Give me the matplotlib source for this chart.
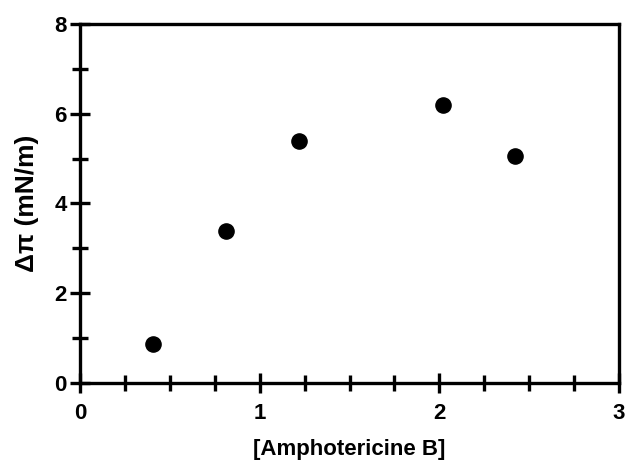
import matplotlib
matplotlib.use("Agg")
import matplotlib.pyplot as plt
from matplotlib.ticker import MultipleLocator

conc = [0.405, 0.81, 1.22, 2.02, 2.42]
dpi_vals = [0.87, 3.39, 5.39, 6.19, 5.06]

plt.rcParams['font.family'] = ['Liberation Sans', 'DejaVu Sans']
plt.rcParams['font.weight'] = 'bold'

fig = plt.figure(figsize=(6.27, 4.65), dpi=100)
ax = fig.add_axes([80/627, 1-383/465, (619-80)/627, (383-24)/465])
ax.scatter(conc, dpi_vals, s=120, color='black', zorder=3, clip_on=False)
ax.set_xlim(0, 3)
ax.set_ylim(0, 8)
ax.xaxis.set_major_locator(MultipleLocator(1))
ax.xaxis.set_minor_locator(MultipleLocator(0.25))
ax.yaxis.set_major_locator(MultipleLocator(2))
ax.yaxis.set_minor_locator(MultipleLocator(1))
for s in ax.spines.values():
    s.set_linewidth(2.4)
ax.tick_params(which='both', direction='inout', width=2.4, top=False, right=False)
ax.tick_params(which='major', length=15, labelsize=16)
ax.tick_params(axis='x', which='major', pad=7)
ax.tick_params(axis='y', which='major', pad=2)
ax.tick_params(which='minor', length=11)
for lbl in ax.get_xticklabels() + ax.get_yticklabels():
    lbl.set_fontweight('bold')
ax.set_xlabel('[Amphotericine B]', fontsize=16, fontweight='bold', labelpad=11)
ax.set_ylabel('Δπ (mN/m)', fontsize=19, fontweight='bold', labelpad=11)
fig.savefig('out.png', dpi=100)
